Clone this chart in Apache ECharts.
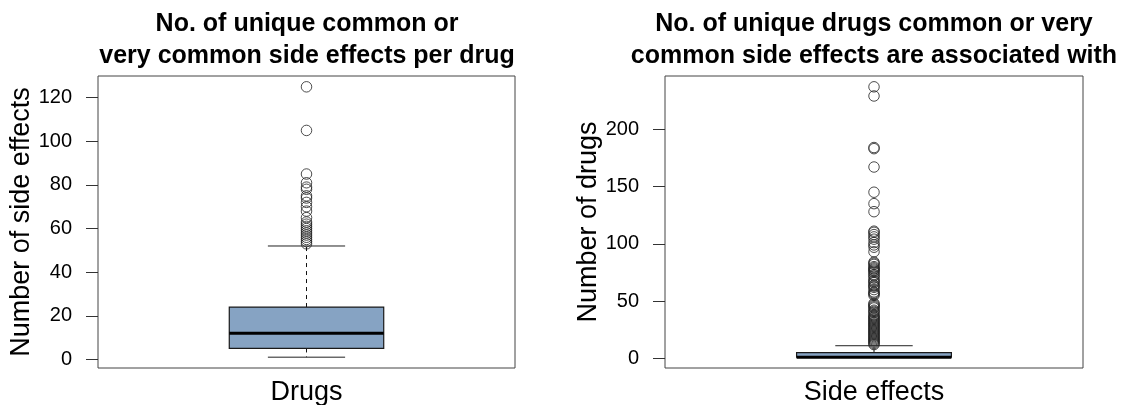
<!DOCTYPE html>
<html>
<head>
<meta charset="utf-8">
<script src="https://cdn.jsdelivr.net/npm/echarts@6/dist/echarts.min.js"></script>
<style>
  html, body { margin: 0; padding: 0; background: #fff; }
  #chart { width: 1121px; height: 405px; }
</style>
</head>
<body>
<div id="chart"></div>
<script>
// Box statistics: [lower whisker, Q1, median, Q3, upper whisker]
const drugStats = [1, 5, 12, 24, 52];
const drugOutliers = [125, 105, 85, 81, 79, 78, 75, 74, 72, 70, 68, 65, 63, 62, 61, 60,
  59, 58, 57, 56, 55, 54, 53];

const sideEffectStats = [1, 1, 1, 5, 11];
const sideEffectOutliers = [237, 229, 184, 183, 167, 145, 135, 128, 111, 110, 108, 106,
  104, 101, 99, 97, 93, 84, 83, 82, 80, 79, 78, 77, 76, 75, 73, 72, 70, 68, 67, 66, 64,
  63, 62, 60, 58, 57, 56, 55, 48, 47, 46, 45, 44, 42, 41, 40, 38, 37, 36, 35, 34, 33,
  32, 31, 30, 29, 28, 27, 26, 25, 24, 23, 22, 21, 20, 19, 18, 17, 16, 15, 14, 13, 12];

const drugTicks = [0, 20, 40, 60, 80, 100, 120];
const sideEffectTicks = [0, 50, 100, 150, 200];

const titles = [
  'No. of unique common or\nvery common side effects per drug',
  'No. of unique drugs common or very\ncommon side effects are associated with'
];
const yNames = ['Number of side effects', 'Number of drugs'];
const xNames = ['Drugs', 'Side effects'];

const FONT = '"Liberation Sans", Arial, sans-serif';

// R-style axis range: data range padded by 4% on both ends
function padRange(values) {
  const lo = Math.min(...values), hi = Math.max(...values);
  const pad = (hi - lo) * 0.04;
  return [lo - pad, hi + pad];
}
const drugRange = padRange([...drugStats, ...drugOutliers]);
const seRange = padRange([...sideEffectStats, ...sideEffectOutliers]);

const BOX_HALF = 0.2;
const STAPLE_HALF = 0.1;

function renderBox(params, api) {
  const x = api.value(0);
  const low = api.value(1), q1 = api.value(2), med = api.value(3),
        q3 = api.value(4), high = api.value(5);
  const pL = api.coord([x - BOX_HALF, q3]);
  const pR = api.coord([x + BOX_HALF, q1]);
  const c = (xv, yv) => api.coord([xv, yv]);
  const children = [];
  const dashed = { stroke: '#111', lineWidth: 1, lineDash: [4, 4] };
  const solid = { stroke: '#222', lineWidth: 1 };
  // whiskers
  if (high > q3) {
    children.push({ type: 'line', shape: { x1: c(x, q3)[0], y1: c(x, q3)[1], x2: c(x, high)[0], y2: c(x, high)[1] }, style: dashed });
  }
  if (low < q1) {
    children.push({ type: 'line', shape: { x1: c(x, q1)[0], y1: c(x, q1)[1], x2: c(x, low)[0], y2: c(x, low)[1] }, style: dashed });
  }
  // staples
  [high, low].forEach(v => {
    const a = c(x - STAPLE_HALF, v), b = c(x + STAPLE_HALF, v);
    children.push({ type: 'line', shape: { x1: a[0], y1: a[1], x2: b[0], y2: b[1] }, style: solid });
  });
  // box
  children.push({
    type: 'rect',
    shape: { x: pL[0], y: pL[1], width: pR[0] - pL[0], height: pR[1] - pL[1] },
    style: { fill: '#86a3c3', stroke: '#1a1a1a', lineWidth: 1.2 }
  });
  // median
  const m1 = c(x - BOX_HALF, med), m2 = c(x + BOX_HALF, med);
  children.push({ type: 'line', shape: { x1: m1[0], y1: m1[1], x2: m2[0], y2: m2[1] }, style: { stroke: '#000', lineWidth: 3 } });
  return { type: 'group', children };
}

function yAxis(idx, range, ticks, name, gap) {
  return {
    type: 'value',
    gridIndex: idx,
    min: range[0],
    max: range[1],
    name: name,
    nameLocation: 'middle',
    nameGap: gap,
    nameTextStyle: { fontFamily: FONT, fontSize: 27, color: '#000' },
    axisLine: { show: false },
    splitLine: { show: false },
    axisTick: { show: true, inside: false, length: 12, customValues: ticks, lineStyle: { color: '#333', width: 1 } },
    axisLabel: { customValues: ticks, margin: 26, fontFamily: FONT, fontSize: 20, color: '#000' }
  };
}

function xAxis(idx, name) {
  return {
    type: 'value',
    gridIndex: idx,
    min: 0.46,
    max: 1.54,
    name: name,
    nameLocation: 'middle',
    nameGap: 11,
    nameTextStyle: { fontFamily: FONT, fontSize: 27, color: '#000', verticalAlign: 'top' },
    axisLine: { show: false },
    axisTick: { show: false },
    axisLabel: { show: false },
    splitLine: { show: false }
  };
}

const chart = echarts.init(document.getElementById('chart'), null, { renderer: 'canvas' });
chart.setOption({
  backgroundColor: '#fff',
  animation: false,
  graphic: [
    { type: 'text', x: 307, y: 40, style: { text: titles[0], align: 'center', verticalAlign: 'middle', font: 'bold 25px ' + FONT, lineHeight: 32, fill: '#000' } },
    { type: 'text', x: 874, y: 40, style: { text: titles[1], align: 'center', verticalAlign: 'middle', font: 'bold 25px ' + FONT, lineHeight: 32, fill: '#000' } }
  ],
  grid: [
    { left: 98, right: 606, top: 76, bottom: 37, outerBoundsMode: 'none', containLabel: false, show: true, borderColor: '#444', borderWidth: 1, backgroundColor: 'transparent' },
    { left: 665, right: 38, top: 76, bottom: 37, outerBoundsMode: 'none', containLabel: false, show: true, borderColor: '#444', borderWidth: 1, backgroundColor: 'transparent' }
  ],
  xAxis: [xAxis(0, xNames[0]), xAxis(1, xNames[1])],
  yAxis: [
    yAxis(0, drugRange, drugTicks, yNames[0], 62),
    yAxis(1, seRange, sideEffectTicks, yNames[1], 62)
  ],
  series: [
    {
      type: 'custom', xAxisIndex: 0, yAxisIndex: 0,
      renderItem: renderBox,
      encode: { x: 0, y: [1, 2, 3, 4, 5] },
      data: [[1, ...drugStats]], z: 2
    },
    {
      type: 'scatter', xAxisIndex: 0, yAxisIndex: 0,
      symbol: 'circle', symbolSize: 10.5,
      itemStyle: { color: 'rgba(0,0,0,0)', borderColor: '#222', borderWidth: 1 },
      data: drugOutliers.map(v => [1, v]), z: 3
    },
    {
      type: 'custom', xAxisIndex: 1, yAxisIndex: 1,
      renderItem: renderBox,
      encode: { x: 0, y: [1, 2, 3, 4, 5] },
      data: [[1, ...sideEffectStats]], z: 2
    },
    {
      type: 'scatter', xAxisIndex: 1, yAxisIndex: 1,
      symbol: 'circle', symbolSize: 10.5,
      itemStyle: { color: 'rgba(0,0,0,0)', borderColor: '#222', borderWidth: 1 },
      data: sideEffectOutliers.map(v => [1, v]), z: 3
    }
  ]
});
</script>
</body>
</html>
